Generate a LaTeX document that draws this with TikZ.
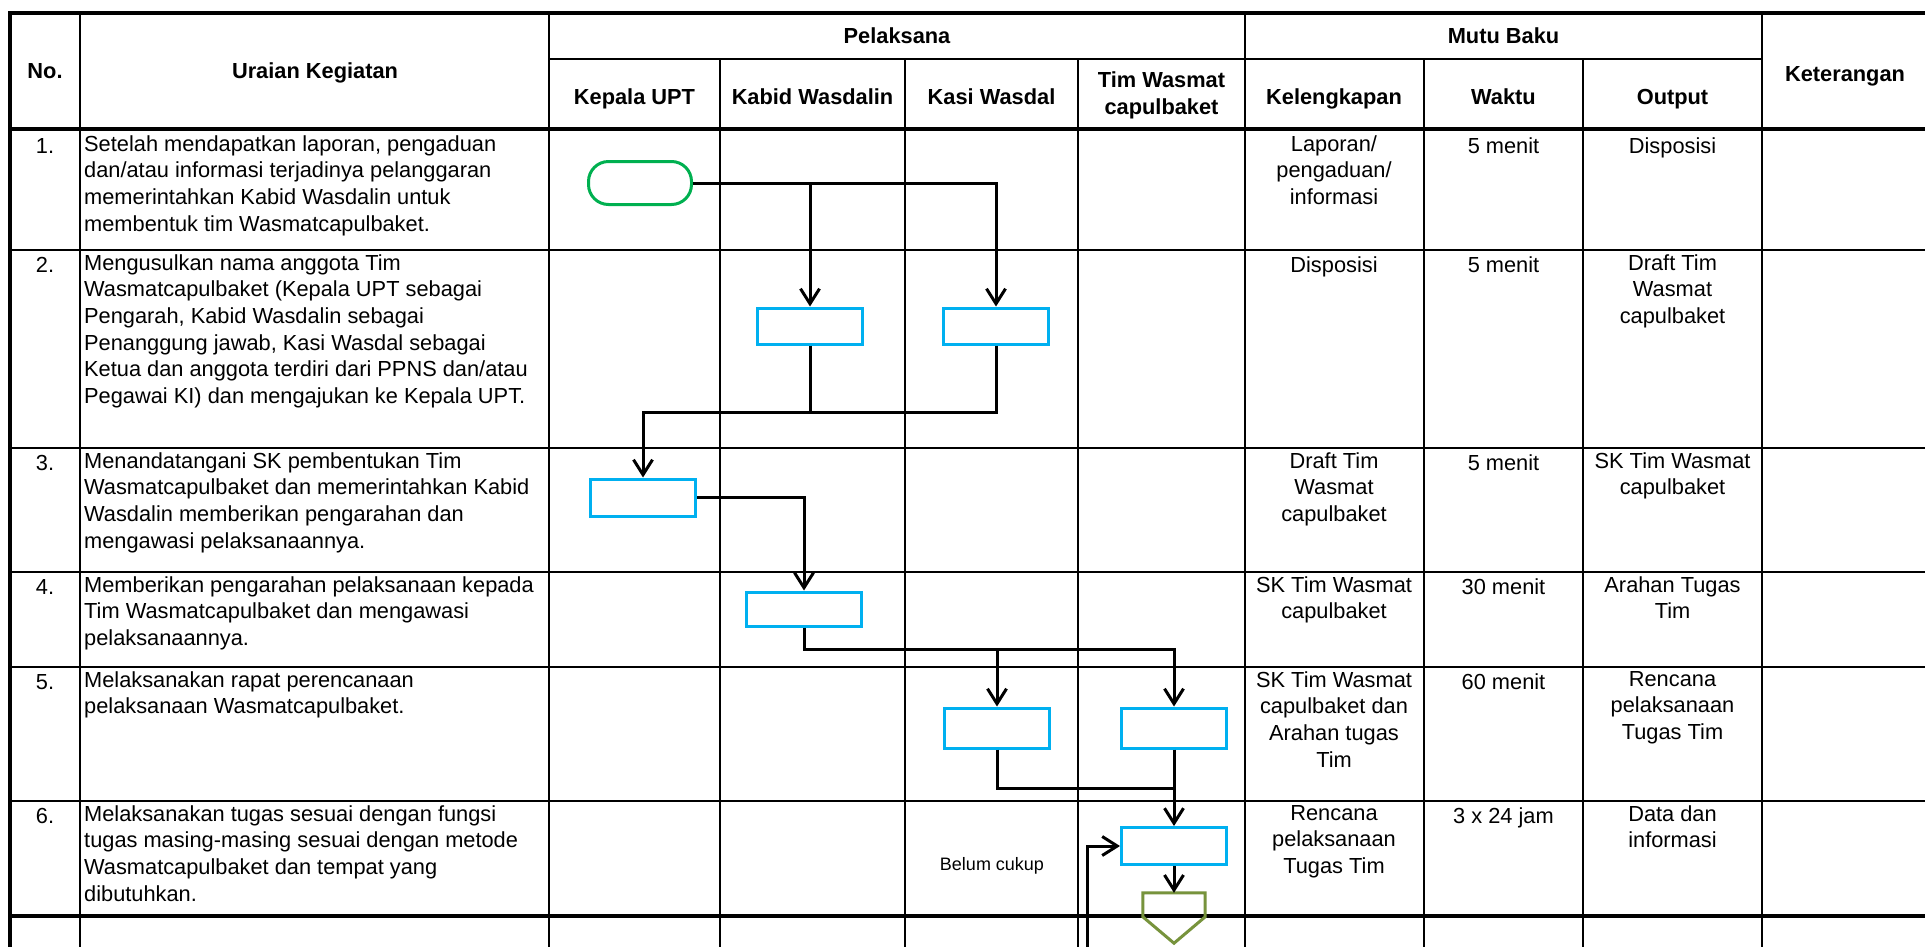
\documentclass[tikz,border=0pt]{standalone}
\usepackage{fontspec}
\setmainfont{Liberation Sans}
\usetikzlibrary{arrows.meta}
\definecolor{boxblue}{HTML}{00B0F0}
\definecolor{termgreen}{HTML}{00B050}
\definecolor{pentolive}{HTML}{77933C}
\begin{document}
\begin{tikzpicture}[x=1pt,y=-1pt,
  thinline/.style={line width=2pt},
  thickline/.style={line width=4pt},
  txt/.style={font=\fontsize{21.8}{26.7}\selectfont, inner sep=0pt, anchor=north, align=center, execute at begin node=\strut},
  desc/.style={txt, anchor=north west, align=left},
  hdr/.style={font=\fontsize{21.8}{27.5}\selectfont\bfseries, inner sep=0pt, anchor=base, align=center},
  proc/.style={draw=boxblue, line width=3pt, fill=white, minimum width=105pt, minimum height=36pt, inner sep=0pt},
  term/.style={draw=termgreen, line width=3pt, rounded corners=20pt, minimum width=103pt, minimum height=43pt, inner sep=0pt},
  pentnode/.style={minimum width=62pt, minimum height=50pt, inner sep=0pt},
  conn/.style={line width=3pt, draw=black},
  arr/.style={conn, -{Straight Barb[length=15pt,width=19pt]}},
  small/.style={font=\fontsize{18}{22}\selectfont, inner sep=0pt, anchor=base}
]
\useasboundingbox (0,0) rectangle (1925,946);
\fill[white] (0,0) rectangle (1925,946);
\clip (0,0) rectangle (1925,946);

% ---------- table grid ----------
\draw[thinline] (549,59) -- (1762,59);
\foreach \x in {720,905,1078,1424,1583} \draw[thinline] (\x,59) -- (\x,960);
\foreach \x in {80,549,1245,1762} \draw[thinline] (\x,13) -- (\x,960);
\foreach \y in {250,448,572,667,801} \draw[thinline] (10,\y) -- (1930,\y);
\draw[thickline] (1930,13) -- (10,13) -- (10,960);
\draw[thickline] (10,129) -- (1930,129);
\draw[thickline] (10,916) -- (1930,916);

% ---------- header ----------
\node[hdr] (hNo) at (45,78.5) {No.};
\node[hdr] (hUr) at (315,78.5) {Uraian Kegiatan};
\node[hdr] (hPel) at (897,43) {Pelaksana};
\node[hdr] (hMutu) at (1503.5,43) {Mutu Baku};
\node[hdr] (hKet) at (1845,81) {Keterangan};
\node[hdr] (hKep) at (634.5,104.5) {Kepala UPT};
\node[hdr] (hKab) at (812.5,104.5) {Kabid Wasdalin};
\node[hdr] (hKas) at (991.5,104.5) {Kasi Wasdal};
\node[hdr, anchor=north, execute at begin node=\strut] (hTim) at (1161.5,71) {Tim Wasmat\\capulbaket};
\node[hdr] (hKel) at (1334,104.5) {Kelengkapan};
\node[hdr] (hWak) at (1503.5,104.5) {Waktu};
\node[hdr] (hOut) at (1672.5,104.5) {Output};

% ---------- rows ----------
% row 1
\node[txt] (n1) at (45,135) {1.};
\node[desc] (d1) at (84,135) {Setelah mendapatkan laporan, pengaduan\\dan/atau informasi terjadinya pelanggaran\\memerintahkan Kabid Wasdalin untuk\\membentuk tim Wasmatcapulbaket.};
\node[txt] (k1) at (1334,135) {Laporan/\\pengaduan/\\informasi};
\node[txt] (w1) at (1503.5,135) {5 menit};
\node[txt] (o1) at (1672.5,135) {Disposisi};
% row 2
\node[txt] (n2) at (45,254) {2.};
\node[desc] (d2) at (84,254) {Mengusulkan nama anggota Tim\\Wasmatcapulbaket (Kepala UPT sebagai\\Pengarah, Kabid Wasdalin sebagai\\Penanggung jawab, Kasi Wasdal sebagai\\Ketua dan anggota terdiri dari PPNS dan/atau\\Pegawai KI) dan mengajukan ke Kepala UPT.};
\node[txt] (k2) at (1334,254) {Disposisi};
\node[txt] (w2) at (1503.5,254) {5 menit};
\node[txt] (o2) at (1672.5,254) {Draft Tim\\Wasmat\\capulbaket};
% row 3
\node[txt] (n3) at (45,452) {3.};
\node[desc] (d3) at (84,452) {Menandatangani SK pembentukan Tim\\Wasmatcapulbaket dan memerintahkan Kabid\\Wasdalin memberikan pengarahan dan\\mengawasi pelaksanaannya.};
\node[txt] (k3) at (1334,452) {Draft Tim\\Wasmat\\capulbaket};
\node[txt] (w3) at (1503.5,452) {5 menit};
\node[txt] (o3) at (1672.5,452) {SK Tim Wasmat\\capulbaket};
% row 4
\node[txt] (n4) at (45,576) {4.};
\node[desc] (d4) at (84,576) {Memberikan pengarahan pelaksanaan kepada\\Tim Wasmatcapulbaket dan mengawasi\\pelaksanaannya.};
\node[txt] (k4) at (1334,576) {SK Tim Wasmat\\capulbaket};
\node[txt] (w4) at (1503.5,576) {30 menit};
\node[txt] (o4) at (1672.5,576) {Arahan Tugas\\Tim};
% row 5
\node[txt] (n5) at (45,671) {5.};
\node[desc] (d5) at (84,671) {Melaksanakan rapat perencanaan\\pelaksanaan Wasmatcapulbaket.};
\node[txt] (k5) at (1334,671) {SK Tim Wasmat\\capulbaket dan\\Arahan tugas\\Tim};
\node[txt] (w5) at (1503.5,671) {60 menit};
\node[txt] (o5) at (1672.5,671) {Rencana\\pelaksanaan\\Tugas Tim};
% row 6
\node[txt] (n6) at (45,805) {6.};
\node[desc] (d6) at (84,805) {Melaksanakan tugas sesuai dengan fungsi\\tugas masing-masing sesuai dengan metode\\Wasmatcapulbaket dan tempat yang\\dibutuhkan.};
\node[txt] (k6) at (1334,805) {Rencana\\pelaksanaan\\Tugas Tim};
\node[txt] (w6) at (1503.5,805) {3 x 24 jam};
\node[txt] (o6) at (1672.5,805) {Data dan\\informasi};

% ---------- flow shapes ----------
\node[term] (T1) at (640,183) {};
\node[proc] (A2) at (810,326) {};
\node[proc] (B2) at (996,326) {};
\node[proc, minimum height=37pt] (K3) at (643,497.5) {};
\node[proc, minimum width=115pt, minimum height=34pt] (K4) at (804,609) {};
\node[proc, minimum height=40pt] (K5) at (997,728) {};
\node[proc, minimum height=40pt] (T5) at (1174,728) {};
\node[proc, minimum height=37pt] (T6) at (1174,846) {};
\node[pentnode] (P) at (1174,918) {};
\draw[pentolive, line width=3pt, line join=miter] (P.north west) -- (P.north east) -- ([yshift=-24pt]P.north east) -- (P.south) -- ([yshift=-24pt]P.north west) -- cycle;
\node[small] (bc) at (992,870) {Belum cukup};

% ---------- connectors ----------
\coordinate (m23) at (720,412);
\coordinate (m45) at (900,649);
\coordinate (m56) at (1100,788);
\coordinate (lp) at (1087,960);
\draw[arr] (T1.east) -| (B2.north);
\draw[arr] (T1.east -| A2.north) -- (A2.north);
\draw[arr] (B2.south) |- (m23) -| (K3.north);
\draw[conn] (A2.south) -- (A2.south |- m23);
\draw[arr] (K3.east) -| (K4.north);
\draw[arr] (K4.south) |- (m45) -| (T5.north);
\draw[arr] (K5.north |- m45) -- (K5.north);
\draw[conn] (K5.south) |- (m56) -| (T5.south);
\draw[arr] (T5.south) -- (T6.north);
\draw[arr] (T6.south) -- (P.north);
\draw[arr] (lp) |- (T6.west);
\end{tikzpicture}
\end{document}
